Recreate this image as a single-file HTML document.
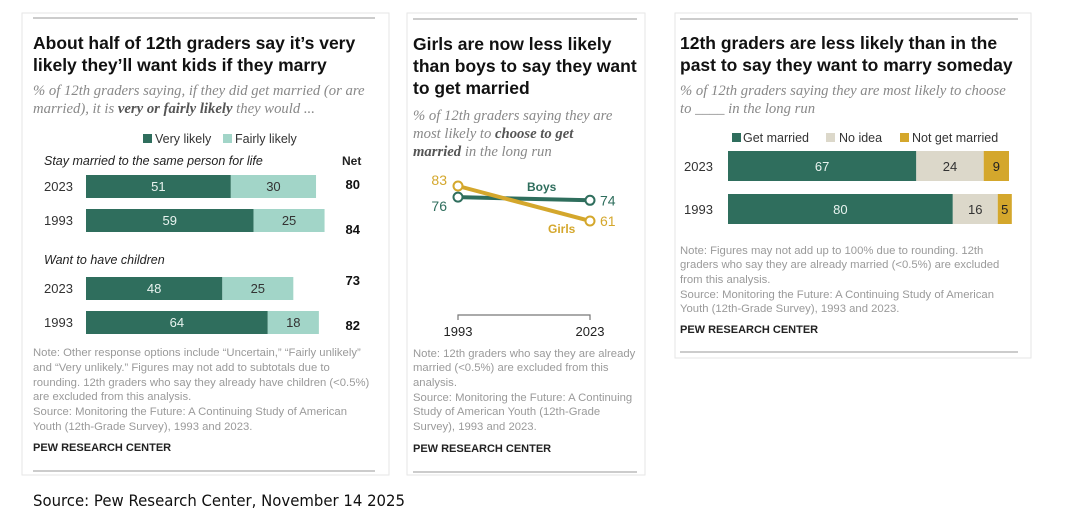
<!DOCTYPE html>
<html><head><meta charset="utf-8">
<style>
html,body{margin:0;padding:0;background:#fff;}
svg{display:block;font-family:"Liberation Sans",sans-serif;}
.t{font-weight:bold;font-size:17.5px;fill:#111;}
.s{font-family:"Liberation Serif",serif;font-style:italic;font-size:14.7px;fill:#888;}
.sb{font-weight:bold;fill:#555;}
.n{font-size:11.3px;fill:#9a9a9a;}
.p{font-size:11px;font-weight:bold;fill:#222;}
.y{font-size:13px;fill:#333;}
.v{font-size:13px;}
</style></head>
<body>
<svg id="c" width="1075" height="532" viewBox="0 0 1075 532">
<rect x="22" y="13" width="367" height="462" fill="none" stroke="#e6e6e6"/>
<rect x="407" y="13" width="238" height="462" fill="none" stroke="#e6e6e6"/>
<rect x="675" y="13" width="356" height="345" fill="none" stroke="#e6e6e6"/>
<line x1="33" y1="18" x2="375" y2="18" stroke="#999"/>
<line x1="33" y1="471" x2="375" y2="471" stroke="#999"/>
<line x1="413" y1="19" x2="637" y2="19" stroke="#999"/>
<line x1="413" y1="472" x2="637" y2="472" stroke="#999"/>
<line x1="680" y1="19" x2="1018" y2="19" stroke="#999"/>
<line x1="680" y1="352" x2="1018" y2="352" stroke="#999"/>

<g>
<text class="t" x="33" y="49">About half of 12th graders say it’s very</text>
<text class="t" x="33" y="71">likely they’ll want kids if they marry</text></g>
<g>
<text class="s" x="33" y="95">% of 12th graders saying, if they did get married (or are</text>
<text class="s" x="33" y="113">married), it is <tspan class="sb">very or fairly likely</tspan> they would ...</text></g>
<g>
<rect x="143" y="134" width="9" height="9" fill="#2f6e5d"/><text x="155" y="143" font-size="12.5" fill="#333">Very likely</text>
<rect x="223" y="134" width="9" height="9" fill="#a2d5c8"/><text x="235" y="143" font-size="12.5" fill="#333">Fairly likely</text></g>
<text x="44" y="165" font-size="12.5" font-style="italic" fill="#222">Stay married to the same person for life</text>
<text x="342" y="165" font-size="12" font-weight="bold" fill="#222">Net</text>
<text x="44" y="264" font-size="12.5" font-style="italic" fill="#222">Want to have children</text>
<g id="p1"></g>
<g class="n">
<text x="33" y="356">Note: Other response options include “Uncertain,” “Fairly unlikely”</text>
<text x="33" y="371">and “Very unlikely.” Figures may not add to subtotals due to</text>
<text x="33" y="386">rounding. 12th graders who say they already have children (&lt;0.5%)</text>
<text x="33" y="400">are excluded from this analysis.</text>
<text x="33" y="415">Source: Monitoring the Future: A Continuing Study of American</text>
<text x="33" y="430">Youth (12th-Grade Survey), 1993 and 2023.</text></g>
<text class="p" x="33" y="451">PEW RESEARCH CENTER</text>

<g>
<text class="t" x="413" y="50">Girls are now less likely</text>
<text class="t" x="413" y="72">than boys to say they want</text>
<text class="t" x="413" y="94">to get married</text></g>
<g>
<text class="s" x="413" y="120">% of 12th graders saying they are</text>
<text class="s" x="413" y="138">most likely to <tspan class="sb">choose to get</tspan></text>
<text class="s" x="413" y="156"><tspan class="sb">married</tspan> in the long run</text></g>
<g id="p2"></g>
<g class="n">
<text x="413" y="357">Note: 12th graders who say they are already</text>
<text x="413" y="371">married (&lt;0.5%) are excluded from this</text>
<text x="413" y="386">analysis.</text>
<text x="413" y="401">Source: Monitoring the Future: A Continuing</text>
<text x="413" y="415">Study of American Youth (12th-Grade</text>
<text x="413" y="430">Survey), 1993 and 2023.</text></g>
<text class="p" x="413" y="452">PEW RESEARCH CENTER</text>

<g>
<text class="t" x="680" y="49">12th graders are less likely than in the</text>
<text class="t" x="680" y="71">past to say they want to marry someday</text></g>
<g>
<text class="s" x="680" y="95">% of 12th graders saying they are most likely to choose</text>
<text class="s" x="680" y="113">to ____ in the long run</text></g>
<g>
<rect x="732" y="133" width="9" height="9" fill="#2f6e5d"/><text x="743" y="142" font-size="12.5" fill="#333">Get married</text>
<rect x="826" y="133" width="9" height="9" fill="#dcd8ca"/><text x="839" y="142" font-size="12.5" fill="#333">No idea</text>
<rect x="900" y="133" width="9" height="9" fill="#d4a72c"/><text x="912" y="142" font-size="12.5" fill="#333">Not get married</text></g>
<g id="p3"></g>
<g class="n">
<text x="680" y="254">Note: Figures may not add up to 100% due to rounding. 12th</text>
<text x="680" y="268">graders who say they are already married (&lt;0.5%) are excluded</text>
<text x="680" y="283">from this analysis.</text>
<text x="680" y="298">Source: Monitoring the Future: A Continuing Study of American</text>
<text x="680" y="312">Youth (12th-Grade Survey), 1993 and 2023.</text></g>
<text class="p" x="680" y="333">PEW RESEARCH CENTER</text>

<text x="33" y="506" font-family="'DejaVu Sans',sans-serif" font-size="16" fill="#111" textLength="372" lengthAdjust="spacingAndGlyphs">Source: Pew Research Center, November 14 2025</text>
</svg>
<script>
const ns="http://www.w3.org/2000/svg";
// Panel 1 data
const p1Years=["2023","1993","2023","1993"];
const p1Very=[51,59,48,64];
const p1Fairly=[30,25,25,18];
const p1Net=[80,84,73,82];
// Panel 2 data
const p2Years=["1993","2023"];
const p2Boys=[76,74];
const p2Girls=[83,61];
// Panel 3 data
const p3Years=["2023","1993"];
const p3Married=[67,80];
const p3NoIdea=[24,16];
const p3Not=[9,5];

function mk(tag,attrs,parent,txt){const e=document.createElementNS(ns,tag);for(const k in attrs)e.setAttribute(k,attrs[k]);if(txt!==undefined)e.textContent=txt;parent.appendChild(e);return e;}

const g1=document.getElementById('p1');
const x1=v=>86+v*2.84;
const rowY=[175,209,277,311];
const netY=[189,234,285,330];
p1Years.forEach((yr,i)=>{
  const y=rowY[i];
  let t=mk('text',{x:44,y:y+16,class:'y'},g1,yr);
  
  
  let r=mk('rect',{x:x1(0),y:y,width:x1(p1Very[i])-x1(0),height:23,fill:'#2f6e5d'},g1);
  
  
  let r2=mk('rect',{x:x1(p1Very[i]),y:y,width:x1(p1Very[i]+p1Fairly[i])-x1(p1Very[i]),height:23,fill:'#a2d5c8'},g1);
  
  
  let a=mk('text',{x:(x1(0)+x1(p1Very[i]))/2,y:y+16,'text-anchor':'middle',class:'v',fill:'#e8f3ef'},g1,p1Very[i]);
  
  
  let b=mk('text',{x:(x1(p1Very[i])+x1(p1Very[i]+p1Fairly[i]))/2,y:y+16,'text-anchor':'middle',class:'v',fill:'#333'},g1,p1Fairly[i]);
  
  
  let n=mk('text',{x:360,y:netY[i],'text-anchor':'end','font-size':'13','font-weight':'bold',fill:'#111'},g1,p1Net[i]);
  
  
});

const g2=document.getElementById('p2');
const xs=[458,590];
const y2=v=>186+(83-v)*1.59;
function line(vals,color,name){
  let l=mk('polyline',{points:vals.map((v,i)=>xs[i]+','+y2(v)).join(' '),fill:'none',stroke:color,'stroke-width':4},g2);
  
  
  vals.forEach((v,i)=>{
    let c=mk('circle',{cx:xs[i],cy:y2(v),r:4.5,fill:'#fff',stroke:color,'stroke-width':2},g2);
    
    
  });
}
line(p2Boys,'#2f6e5d','boys');
line(p2Girls,'#d4a72c','girls');
const lab=[[p2Girls[0],'#d4a72c',447,-1],[p2Boys[0],'#2f6e5d',447,1],[p2Boys[1],'#2f6e5d',600,0],[p2Girls[1],'#d4a72c',600,0]];
lab.forEach((L,i)=>{
  const anchor=L[2]<500?'end':'start';
  const dy=L[3]===-1?-1:(L[3]===1?14:5);
  let t=mk('text',{x:L[2],y:y2(L[0])+dy,'text-anchor':anchor,'font-size':'14',fill:L[1]},g2,L[0]);
  
  
});
let bl=mk('text',{x:527,y:y2(p2Boys[0])-6,'font-size':'12','font-weight':'bold',fill:'#2f6e5d'},g2,'Boys');


let gl=mk('text',{x:548,y:y2(p2Girls[1])+12,'font-size':'12','font-weight':'bold',fill:'#d4a72c'},g2,'Girls');


let ax=mk('path',{d:`M${xs[0]},320 V315 H${xs[1]} V320`,fill:'none',stroke:'#777','stroke-width':1.2},g2);


p2Years.forEach((yr,i)=>{
  let t=mk('text',{x:xs[i],y:336,'text-anchor':'middle','font-size':'13',fill:'#222'},g2,yr);
  
  
});

const g3=document.getElementById('p3');
const x3=v=>728+v*2.81;
const y3=[151,194];
p3Years.forEach((yr,i)=>{
  const y=y3[i];
  let t=mk('text',{x:684,y:y+20,class:'y'},g3,yr);
  
  
  const segs=[[p3Married[i],'#2f6e5d','#e8f3ef','married'],[p3NoIdea[i],'#dcd8ca','#333','no-idea'],[p3Not[i],'#d4a72c','#222','not-married']];
  let acc=0;
  segs.forEach(s=>{
    let r=mk('rect',{x:x3(acc),y:y,width:x3(acc+s[0])-x3(acc),height:30,fill:s[1]},g3);
    
    
    let v=mk('text',{x:(x3(acc)+x3(acc+s[0]))/2,y:y+20,'text-anchor':'middle',class:'v',fill:s[2]},g3,s[0]);
    
    
    acc+=s[0];
  });
});
</script>
</body></html>
